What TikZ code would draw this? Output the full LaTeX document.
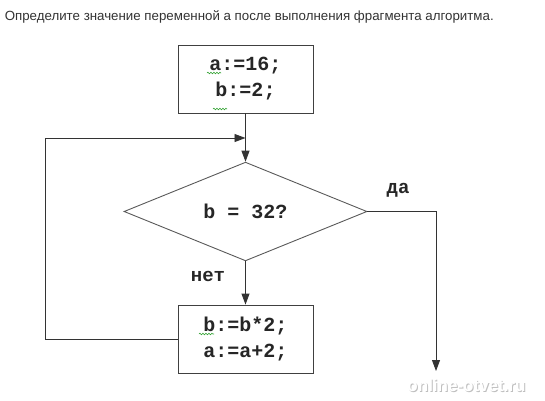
\documentclass[tikz,border=0pt]{standalone}
\usepackage{fontspec}
\setmainfont{Liberation Sans}
\newfontfamily\codefont{Liberation Mono}
\usetikzlibrary{shapes.geometric,arrows.meta,decorations.pathmorphing}
\begin{document}
\begin{tikzpicture}[x=1pt,y=-1pt,
  line width=0.9pt,
  procbox/.style={draw=black!75, fill=white, minimum width=135pt, minimum height=68pt, inner sep=0pt,
    font=\codefont\bfseries\fontsize{20}{26}\selectfont, align=center, text=black!85},
  cond/.style={draw=black!65, diamond, minimum width=243pt, minimum height=93pt, inner sep=0pt,
    font=\codefont\bfseries\fontsize{20}{22}\selectfont, text=black!85},
  lbl/.style={font=\codefont\bfseries\fontsize{19}{20}\selectfont, text=black!85},
  arr/.style={draw=black!80, -{Triangle[length=11pt,width=8pt]}},
  squig/.style={draw=green!55!black!80, line width=0.6pt, decorate, decoration={snake, amplitude=0.8pt, segment length=3pt}}
]
\useasboundingbox (0,0) rectangle (545,400);
\node[anchor=west, font=\fontsize{13.3}{15}\selectfont, text=black!80] (title) at (1,17)
  {Определите значение переменной a после выполнения фрагмента алгоритма.};
\node[procbox] (init) at (245.5,79) {a:=16;\\b:=2;};
\node[cond] (test) at (245.5,211.5) {b = 32?};
\node[procbox] (body) at (245.5,339) {b:=b*2;\\a:=a+2;};
\coordinate (loopc) at (45,138);
\coordinate (join) at (245.5,138);
\coordinate (exitc) at (436,371);
\draw[arr] (init) -- (test);
\draw[arr] (test) -- (body);
\draw[arr] (body.west) -| (loopc) -- (join);
\draw[arr] (test.east) -| (exitc);
\node[lbl] (yes) at (398,190) {да};
\node[lbl] (no) at (208,276) {нет};
% spell-check squiggles
\draw[squig] (207,73) -- (221,73);
\draw[squig] (213,109) -- (227,109);
\draw[squig] (199,334) -- (214,334);
% watermark
\node[font=\bfseries\fontsize{17}{19}\selectfont, text=black!25] (wmshadow) at (467.5,386) {online-otvet.ru};
\node[font=\bfseries\fontsize{17}{19}\selectfont, text=white] (wm) at (466.5,385) {online-otvet.ru};
\end{tikzpicture}
\end{document}
